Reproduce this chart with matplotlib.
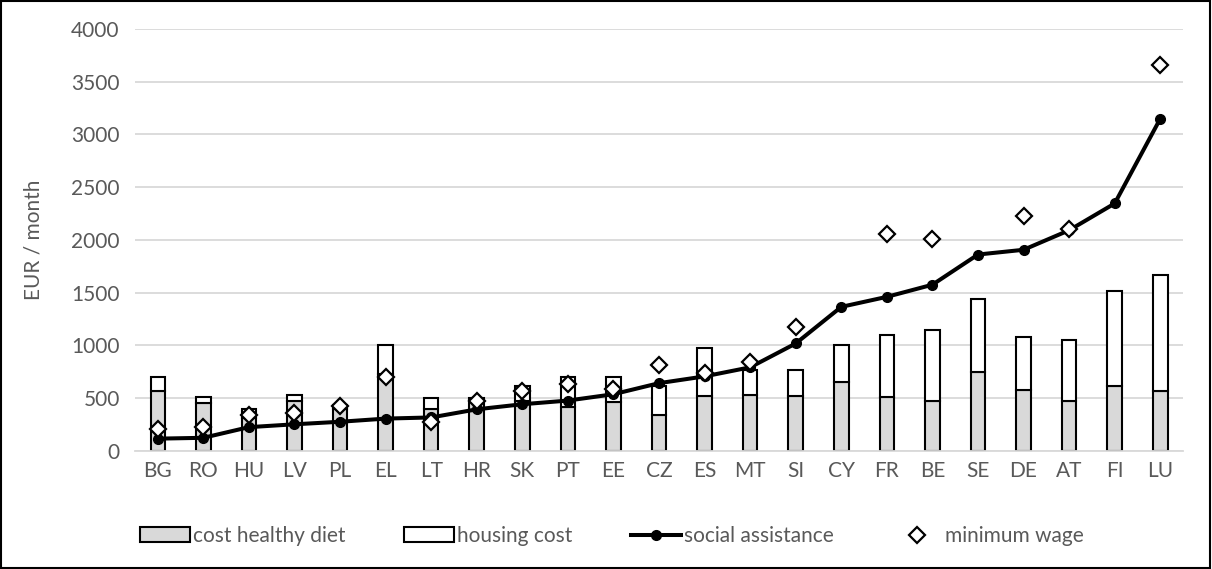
import numpy as np
import matplotlib.pyplot as plt
from matplotlib.lines import Line2D
from matplotlib.patches import Patch, Rectangle

countries = ['BG', 'RO', 'HU', 'LV', 'PL', 'EL', 'LT', 'HR', 'SK', 'PT', 'EE', 'CZ',
             'ES', 'MT', 'SI', 'CY', 'FR', 'BE', 'SE', 'DE', 'AT', 'FI', 'LU']
diet = [565, 455, 310, 470, 400, 730, 400, 480, 470, 420, 460, 340,
        525, 530, 520, 650, 515, 475, 748, 580, 470, 618, 570]
housing = [132, 61, 85, 65, 36, 273, 100, 23, 148, 280, 240, 278,
           452, 235, 246, 350, 582, 671, 691, 502, 581, 900, 1101]
social = [117, 125, 226, 253, 277, 307, 318, 395, 443, 478, 538, 643,
          707, 793, 1019, 1366, 1461, 1576, 1862, 1907, 2092, 2346, 3149]
min_wage = [210, 230, 344, 356, 430, 705, 275, 478, 570, 633, 586, 818,
            738, 843, 1175, np.nan, 2053, 2012, np.nan, 2225, 2108, np.nan, 3658]

plt.rcParams['font.family'] = ['Lato', 'DejaVu Sans']
txt = '#595959'
fs = 15

fig = plt.figure(figsize=(12.12, 5.69), dpi=100)
ax = fig.add_axes([0.1114, 0.2074, 0.8647, 0.7417])

x = np.arange(len(countries))
w = 0.32
ax.bar(x, diet, w, color='#d9d9d9', edgecolor='black', linewidth=1.5, zorder=2)
ax.bar(x, housing, w, bottom=diet, color='white', edgecolor='black', linewidth=1.5, zorder=2)
ax.plot(x, social, color='black', linewidth=2.9, marker='o', markersize=7, zorder=3)
ax.plot(x, min_wage, linestyle='none', marker='D', markersize=8, markerfacecolor='white',
        markeredgecolor='black', markeredgewidth=1.6, zorder=4)

ax.set_xlim(-0.5, len(countries) - 0.5)
ax.set_ylim(0, 4000)
ax.set_yticks(np.arange(0, 4001, 500))
ax.set_xticks(x)
ax.set_xticklabels(countries)
ax.yaxis.grid(True, color='#d9d9d9', linewidth=1.3, zorder=0)
ax.set_axisbelow(True)
for s in ['top', 'right', 'left']:
    ax.spines[s].set_visible(False)
ax.spines['bottom'].set_color('#d9d9d9')
ax.spines['bottom'].set_linewidth(1.3)
ax.tick_params(axis='both', length=0, labelsize=fs, labelcolor=txt)
ax.tick_params(axis='y', pad=11)
ax.tick_params(axis='x', pad=7)
ax.set_ylabel('EUR / month', fontsize=fs, color=txt, labelpad=20)

handles = [
    Patch(facecolor='#d9d9d9', edgecolor='black', linewidth=1.5),
    Patch(facecolor='white', edgecolor='black', linewidth=1.5),
    Line2D([], [], color='black', linewidth=2.9, marker='o', markersize=7),
    Line2D([], [], linestyle='none', marker='D', markersize=8, markerfacecolor='white',
           markeredgecolor='black', markeredgewidth=1.6),
]
labels = ['cost healthy diet', 'housing cost', 'social assistance', 'minimum wage']
leg = fig.legend(handles, labels, loc='center', bbox_to_anchor=(0.505, 0.058), ncol=4,
                 frameon=False, fontsize=fs, handlelength=2.4, handletextpad=0.15,
                 columnspacing=2.8)
for t in leg.get_texts():
    t.set_color(txt)

fig.patches.append(Rectangle((0.001, 0.002), 0.997, 0.996, transform=fig.transFigure,
                             fill=False, edgecolor='black', linewidth=1.5))

fig.savefig('out.png', dpi=100)
